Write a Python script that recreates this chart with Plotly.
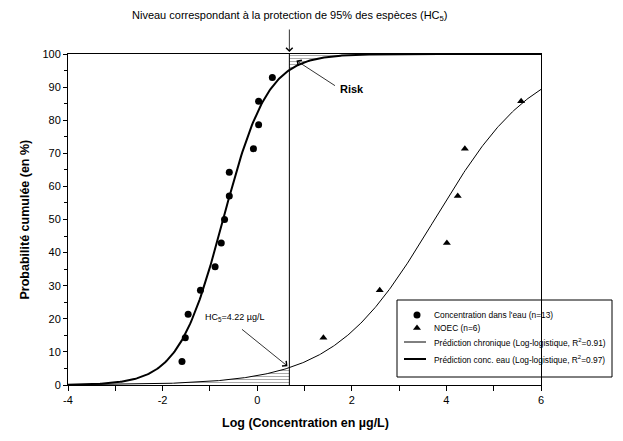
import numpy as np
import plotly.graph_objects as go

# ---- data ----
water_x = [-1.59, -1.52, -1.46, -1.20, -0.89, -0.76, -0.69, -0.59, -0.59, -0.08, 0.03, 0.03, 0.32]
water_y = [7.1, 14.3, 21.4, 28.6, 35.7, 42.9, 50.0, 57.1, 64.3, 71.4, 78.6, 85.7, 92.9]

noec_x = [1.40, 2.59, 4.01, 4.24, 4.39, 5.58]
noec_y = [14.3, 28.6, 42.9, 57.1, 71.4, 85.7]

# log-logistic fit parameters (location, scale)
water_fit = (-0.72, 0.47)
chronic_fit = (3.75, 1.06)

hc5_log = 0.68          # position of the vertical HC5 line
hatch_low_start = -2.0  # left end of the lower hatched zone

x_ticks = [-4, -2, 0, 2, 4, 6]
x_labels = ["-4", "-2", "0", "2", "4", "6"]
y_ticks = [0, 10, 20, 30, 40, 50, 60, 70, 80, 90, 100]

legend_labels = [
    "Concentration dans l'eau (n=13)",
    "NOEC (n=6)",
    "Prédiction chronique (Log-logistique, R<sup>2</sup>=0.91)",
    "Prédiction conc. eau (Log-logistique, R<sup>2</sup>=0.97)",
]


def loglogistic(x, loc, scale):
    return 100.0 / (1.0 + np.exp(-(np.asarray(x) - loc) / scale))


FONT = "Arial, Liberation Sans, sans-serif"
W, H = 623, 441
ML, MR, MT, MB = 68, 82, 54, 56
PW, PH = W - ML - MR, H - MT - MB


def pxx(px):  # pixel -> paper x
    return (px - ML) / PW


def pxy(py):  # pixel -> paper y
    return (H - MB - py) / PH


xs = np.linspace(-4, 6, 400)
fig = go.Figure()

hatch = dict(shape="-", fgcolor="#555555", bgcolor="white", size=3, solidity=0.35)

# lower hatched zone (under chronic curve, left of HC5)
xl = np.linspace(hatch_low_start, hc5_log, 60)
yl = loglogistic(xl, *chronic_fit)
fig.add_trace(go.Scatter(
    x=list(xl) + [hc5_log, hatch_low_start], y=list(yl) + [0, 0],
    fill="toself", mode="lines", line=dict(width=0, color="rgba(0,0,0,0)"),
    fillcolor="rgba(0,0,0,0)", fillpattern=hatch,
    showlegend=False, hoverinfo="skip"))

# upper hatched zone (above water curve, right of HC5)
xu = np.linspace(hc5_log, 6, 120)
yu = loglogistic(xu, *water_fit)
fig.add_trace(go.Scatter(
    x=list(xu) + [6, hc5_log], y=list(yu) + [100, 100],
    fill="toself", mode="lines", line=dict(width=0, color="rgba(0,0,0,0)"),
    fillcolor="rgba(0,0,0,0)", fillpattern=hatch,
    showlegend=False, hoverinfo="skip"))

fig.add_trace(go.Scatter(
    x=xs, y=loglogistic(xs, *chronic_fit), mode="lines", showlegend=False,
    line=dict(color="black", width=1)))
fig.add_trace(go.Scatter(
    x=xs, y=loglogistic(xs, *water_fit), mode="lines", showlegend=False,
    line=dict(color="black", width=2)))

fig.add_trace(go.Scatter(
    x=water_x, y=water_y, mode="markers", showlegend=False,
    marker=dict(symbol="circle", size=7, color="black")))
fig.add_trace(go.Scatter(
    x=noec_x, y=noec_y, mode="markers", showlegend=False,
    marker=dict(symbol="triangle-up", size=7, color="black")))

# vertical HC5 line
fig.add_shape(type="line", x0=hc5_log, x1=hc5_log, y0=0, y1=100,
              xref="x", yref="y", line=dict(color="black", width=1))

# ---- custom legend box ----
leg_rows = [315, 328, 342, 359]
fig.add_shape(type="rect", xref="paper", yref="paper",
              x0=pxx(397), x1=pxx(612), y0=pxy(377), y1=pxy(300),
              line=dict(color="black", width=1), fillcolor="white", layer="below")
leg_sym_x = 417
fig.add_trace(go.Scatter(
    x=[(leg_sym_x - ML) / PW * 10 - 4], y=[pxy(leg_rows[0]) * 100], mode="markers",
    marker=dict(symbol="circle", size=7, color="black"), cliponaxis=False,
    showlegend=False, hoverinfo="skip"))
fig.add_trace(go.Scatter(
    x=[(leg_sym_x - ML) / PW * 10 - 4], y=[pxy(leg_rows[1]) * 100], mode="markers",
    marker=dict(symbol="triangle-up", size=7, color="black"), cliponaxis=False,
    showlegend=False, hoverinfo="skip"))
fig.add_shape(type="line", xref="paper", yref="paper", x0=pxx(404), x1=pxx(426),
              y0=pxy(leg_rows[2]), y1=pxy(leg_rows[2]), line=dict(color="black", width=1),
              layer="above")
fig.add_shape(type="line", xref="paper", yref="paper", x0=pxx(404), x1=pxx(426),
              y0=pxy(leg_rows[3]), y1=pxy(leg_rows[3]), line=dict(color="black", width=2),
              layer="above")

annotations = []
for lab, row in zip(legend_labels, leg_rows):
    annotations.append(dict(text=lab, xref="paper", yref="paper", x=pxx(432), y=pxy(row),
                            xanchor="left", yanchor="middle", showarrow=False,
                            font=dict(size=8.4, family=FONT, color="black")))

annotations += [
    dict(text="Niveau correspondant à la protection de 95% des espèces (HC<sub>5</sub>)",
         xref="paper", yref="paper", x=pxx(290), y=pxy(16), showarrow=False,
         yanchor="middle", font=dict(size=11, family=FONT, color="black")),
    dict(text="", x=hc5_log, y=pxy(52), xref="x", yref="paper", showarrow=True,
         ax=0, ay=-24, arrowhead=4, arrowsize=1.6, arrowwidth=0.8, arrowcolor="black"),
    dict(text="<b>Risk</b>", x=2.0, y=89.5, xref="x", yref="y",
         showarrow=False, font=dict(size=11, family=FONT, color="black")),
    dict(text="", x=0.83, y=98.0, xref="x", yref="y", showarrow=True,
         ax=40, ay=26, arrowhead=4, arrowsize=1.6, arrowwidth=0.8, arrowcolor="black"),
    dict(text="HC<sub>5</sub>=4.22 µg/L", x=-1.14, y=20.3, xref="x", yref="y",
         xanchor="left", showarrow=False, font=dict(size=9, family=FONT, color="black")),
    dict(text="", x=0.64, y=5.7, xref="x", yref="y", showarrow=True,
         ax=-47, ay=-38, arrowhead=4, arrowsize=1.6, arrowwidth=0.8, arrowcolor="black"),
    dict(text="<b>Probabilité cumulée (en %)</b>", xref="paper", yref="paper",
         x=pxx(15), y=0.5, textangle=-90, showarrow=False,
         font=dict(size=12.5, family=FONT, color="black")),
    dict(text="<b>Log (Concentration en µg/L)</b>", xref="paper", yref="paper",
         x=pxx(305), y=pxy(432), showarrow=False,
         font=dict(size=12.5, family=FONT, color="black")),
]

fig.update_layout(
    width=W, height=H,
    margin=dict(l=ML, r=MR, t=MT, b=MB),
    paper_bgcolor="white", plot_bgcolor="white",
    font=dict(family=FONT, size=10, color="black"),
    annotations=annotations, showlegend=False,
    xaxis=dict(range=[-4, 6], tickvals=x_ticks, ticktext=x_labels, ticks="outside", ticklen=5,
               showgrid=False, zeroline=False, showline=True, linecolor="black",
               linewidth=1, mirror=True, tickcolor="black",
               tickfont=dict(size=11),
               minor=dict(dtick=1, ticks="outside", ticklen=5, tickcolor="black")),
    yaxis=dict(range=[0, 100], tickvals=y_ticks, ticks="outside", ticklen=4,
               showgrid=False, zeroline=False, showline=True, linecolor="black",
               linewidth=1, mirror=True, tickcolor="black",
               tickfont=dict(size=11),
               minor=dict(dtick=5, ticks="outside", ticklen=3, tickcolor="black")),
)

fig.write_html("out.html")
